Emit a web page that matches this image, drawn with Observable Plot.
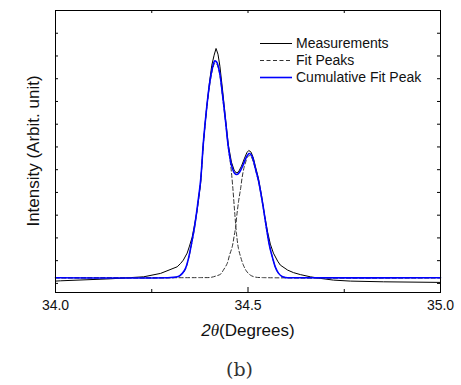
<!DOCTYPE html>
<html><head><meta charset="utf-8">
<script src="https://cdn.jsdelivr.net/npm/d3@7"></script>
<script src="https://cdn.jsdelivr.net/npm/@observablehq/plot@0.6"></script>
<style>
html,body{margin:0;padding:0;background:#fff;}
body{width:461px;height:385px;overflow:hidden;position:relative;font-family:"Liberation Sans",Arial,sans-serif;}
#chart{position:absolute;left:0;top:0;}
.legend{position:absolute;left:260px;top:35px;font-size:14px;color:#111;}
.row{height:17px;line-height:17px;white-space:nowrap;display:flex;align-items:center;}
.row svg{margin-right:4px;}
#caption{position:absolute;left:0;width:479px;top:358px;text-align:center;font-family:"DejaVu Serif","Liberation Serif",serif;font-size:19px;color:#333;}
</style></head><body>
<div id="chart"></div>
<div class="legend" id="legend"></div>
<div id="caption">(b)</div>
<script>
// 2θ (degrees) and intensity (arbitrary units)
const measX = [34.000, 34.013, 34.143, 34.229, 34.273, 34.316, 34.325, 34.332, 34.342, 34.348, 34.355, 34.361, 34.368, 34.377, 34.384, 34.392, 34.400, 34.406, 34.412, 34.417, 34.422, 34.427, 34.434, 34.442, 34.449, 34.457, 34.464, 34.469, 34.475, 34.483, 34.491, 34.497, 34.502, 34.508, 34.514, 34.519, 34.527, 34.535, 34.543, 34.551, 34.558, 34.566, 34.577, 34.584, 34.603, 34.618, 34.636, 34.662, 34.688, 34.722, 34.766, 34.852, 35.000];
const measY = [0.101, 0.114, 0.202, 0.290, 0.440, 0.730, 0.879, 1.024, 1.332, 1.640, 2.035, 2.563, 3.222, 4.409, 6.167, 7.618, 8.848, 9.596, 10.035, 10.330, 10.079, 9.552, 8.497, 7.178, 6.079, 5.332, 4.980, 4.862, 4.892, 5.156, 5.508, 5.749, 5.846, 5.771, 5.508, 5.156, 4.629, 3.881, 3.002, 2.255, 1.727, 1.332, 0.980, 0.804, 0.585, 0.475, 0.387, 0.290, 0.220, 0.145, 0.101, 0.070, 0.044];

const cumX = [34.000, 34.299, 34.319, 34.330, 34.338, 34.345, 34.353, 34.361, 34.369, 34.377, 34.384, 34.392, 34.400, 34.408, 34.414, 34.419, 34.426, 34.434, 34.442, 34.449, 34.457, 34.465, 34.471, 34.478, 34.486, 34.494, 34.503, 34.509, 34.514, 34.519, 34.527, 34.532, 34.540, 34.548, 34.556, 34.564, 34.571, 34.579, 34.587, 34.597, 34.610, 35.000];
const cumY = [0.246, 0.259, 0.299, 0.453, 0.673, 1.068, 1.727, 2.475, 3.442, 4.541, 6.167, 7.618, 8.760, 9.508, 9.785, 9.727, 9.288, 8.277, 7.090, 5.991, 5.200, 4.848, 4.791, 4.892, 5.156, 5.486, 5.714, 5.640, 5.420, 5.068, 4.541, 4.101, 3.310, 2.431, 1.640, 1.112, 0.716, 0.453, 0.321, 0.259, 0.251, 0.246];

const fit1X = [34.000, 34.286, 34.306, 34.319, 34.330, 34.338, 34.345, 34.353, 34.361, 34.369, 34.377, 34.384, 34.392, 34.400, 34.408, 34.414, 34.419, 34.426, 34.434, 34.442, 34.449, 34.455, 34.460, 34.465, 34.470, 34.475, 34.481, 34.488, 34.496, 34.506, 34.519, 34.538, 35.000];
const fit1Y = [0.246, 0.246, 0.255, 0.299, 0.431, 0.651, 1.046, 1.684, 2.431, 3.398, 4.497, 6.123, 7.574, 8.673, 9.420, 9.684, 9.640, 9.244, 8.189, 7.046, 5.947, 5.200, 4.321, 3.222, 2.211, 1.552, 1.156, 0.804, 0.541, 0.365, 0.277, 0.255, 0.246];

const fit2X = [34.000, 34.377, 34.403, 34.416, 34.429, 34.436, 34.446, 34.452, 34.459, 34.464, 34.468, 34.471, 34.476, 34.481, 34.485, 34.490, 34.494, 34.498, 34.505, 34.509, 34.514, 34.519, 34.527, 34.532, 34.540, 34.548, 34.556, 34.564, 34.571, 34.579, 34.587, 34.597, 34.610, 35.000];
const fit2Y = [0.246, 0.255, 0.264, 0.321, 0.409, 0.585, 0.879, 1.244, 1.609, 2.079, 2.488, 3.002, 3.662, 4.189, 4.686, 5.112, 5.332, 5.552, 5.618, 5.552, 5.332, 5.024, 4.497, 4.057, 3.266, 2.387, 1.640, 1.112, 0.716, 0.453, 0.321, 0.259, 0.251, 0.246];

const xTickLabels = [34.0, 34.5, 35.0];
const xMinorTicks = [34.25, 34.75];
const yTicks = [0,1,2,3,4,5,6,7,8,9,10,11,12];
const seriesNames = ["Measurements", "Fit Peaks", "Cumulative Fit Peak"];
const xTitleA = "2";
const xTitleB = "θ";
const xTitleC = "(Degrees)";
const yTitle = "Intensity (Arbit. unit)";

const zip = (xs, ys) => xs.map((x, i) => ({x, y: ys[i]}));
const meas = zip(measX, measY), cum = zip(cumX, cumY), fit1 = zip(fit1X, fit1Y), fit2 = zip(fit2X, fit2Y);

const W = 461, H = 350, mT = 10, mB = H - 292, mL = 55, mR = 21;
const iw = W - mL - mR, ih = H - mT - mB;
const dash = "4,2.5";

const plot = Plot.plot({
  width: W, height: H,
  marginLeft: mL, marginRight: mR, marginTop: mT, marginBottom: mB,
  x: {domain: [34, 35]},
  y: {domain: [-0.4, 12], axis: null},
  style: {fontFamily: "'Liberation Sans', Arial, sans-serif", fontSize: "14px", color: "#111", background: "white", overflow: "visible"},
  marks: [
    Plot.line(meas, {x: "x", y: "y", stroke: "#000", strokeWidth: 1}),
    Plot.line(fit1, {x: "x", y: "y", stroke: "#333", strokeWidth: 1, strokeDasharray: dash, curve: "catmull-rom"}),
    Plot.line(fit2, {x: "x", y: "y", stroke: "#333", strokeWidth: 1, strokeDasharray: dash, curve: "catmull-rom"}),
    Plot.line(cum, {x: "x", y: "y", stroke: "#0000ff", strokeWidth: 1.6, curve: "catmull-rom"}),
    Plot.frame({stroke: "#000", strokeWidth: 1}),
    Plot.tickX(xTickLabels, {x: d => d, insetTop: ih - 5, stroke: "#000"}),
    Plot.tickX(xMinorTicks, {x: d => d, insetTop: ih - 3, stroke: "#000"}),
    Plot.tickX(xTickLabels.concat(xMinorTicks), {x: d => d, insetBottom: ih - 3, stroke: "#000"}),
    Plot.tickY(yTicks, {y: d => d, insetRight: iw - 3, stroke: "#000"}),
    Plot.tickY(yTicks, {y: d => d, insetLeft: iw - 3, stroke: "#000"}),
    Plot.axisX({ticks: xTickLabels, tickSize: 0, tickPadding: 8, tickFormat: d3.format(".1f"), label: null, fontSize: 14})
  ]
});
document.getElementById("chart").appendChild(plot);

const svg = d3.select(plot);
const xt = svg.append("text")
  .attr("x", mL + iw / 2 + 0.5).attr("y", 335.5)
  .attr("text-anchor", "middle")
  .attr("font-size", 17).attr("fill", "#111")
  .attr("font-family", "'Liberation Sans', Arial, sans-serif");
xt.append("tspan").attr("font-style", "italic").text(xTitleA);
xt.append("tspan").attr("font-style", "italic").attr("font-family", "'Liberation Serif', 'Times New Roman', serif").text(xTitleB);
xt.append("tspan").text(xTitleC);

svg.append("text")
  .attr("transform", `translate(39,${mT + ih / 2}) rotate(-90)`)
  .attr("text-anchor", "middle")
  .attr("font-size", 17).attr("fill", "#111")
  .attr("font-family", "'Liberation Sans', Arial, sans-serif")
  .text(yTitle);

// legend
const styles = [
  {stroke: "#000", dash: null, w: 1},
  {stroke: "#333", dash: dash, w: 1},
  {stroke: "#0000ff", dash: null, w: 1.6}
];
const legend = d3.select("#legend");
seriesNames.forEach((name, i) => {
  const row = legend.append("div").attr("class", "row");
  const s = row.append("svg").attr("width", 32).attr("height", 17);
  s.append("line").attr("x1", 0).attr("x2", 32).attr("y1", 8.5).attr("y2", 8.5)
    .attr("stroke", styles[i].stroke).attr("stroke-width", styles[i].w)
    .attr("stroke-dasharray", styles[i].dash);
  row.append("span").text(name);
});
</script>
</body></html>
